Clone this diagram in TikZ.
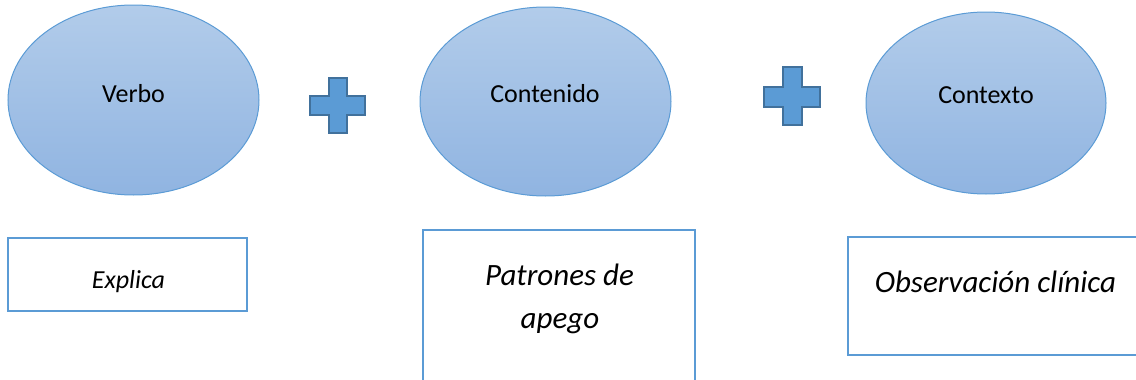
\documentclass[tikz,border=0pt]{standalone}
\usepackage{fontspec}
\setmainfont{Carlito}
\usetikzlibrary{shapes.geometric}
\definecolor{ovalline}{HTML}{5B9BD5}
\definecolor{ovaltop}{HTML}{B2CCEA}
\definecolor{ovalbot}{HTML}{90B4E1}
\definecolor{plusfill}{HTML}{5B9BD5}
\definecolor{plusline}{HTML}{41719C}
\definecolor{boxline}{HTML}{5B9BD5}
\tikzset{
  oval/.style={ellipse, draw=ovalline, line width=1pt, top color=ovaltop, bottom color=ovalbot, inner sep=0pt},
  ovaltext/.style={anchor=base, inner sep=0pt, font=\fontsize{26}{31}\selectfont},
  plussign/.style={fill=plusfill, draw=plusline, line width=1.6pt, line join=miter},
  textbox/.style={draw=boxline, line width=2pt},
  boxtext/.style={anchor=base, inner sep=0pt, align=center},
}
\begin{document}
\begin{tikzpicture}[x=1pt,y=-1pt]
\useasboundingbox (0,0) rectangle (1136,380);
\begin{scope}
\clip (0,0) rectangle (1136,380);
% ovals
\node[oval, minimum width=251pt, minimum height=190pt] (o1) at (133.5,100) {};
\node[oval, minimum width=251pt, minimum height=189pt] (o2) at (545.5,101.5) {};
\node[oval, minimum width=240pt, minimum height=182pt] (o3) at (986,103) {};
\node[ovaltext] (t1) at (133.5,102) {Verbo};
\node[ovaltext] (t2) at (545,102) {Contenido};
\node[ovaltext] (t3) at (986,103) {Contexto};
% plus signs
\draw[plussign] (329,78) -- (347,78) -- (347,96) -- (365,96) -- (365,115) -- (347,115) -- (347,133) -- (329,133) -- (329,115) -- (310,115) -- (310,96) -- (329,96) -- cycle;
\draw[plussign] (783,67) -- (802,67) -- (802,87) -- (820,87) -- (820,107) -- (802,107) -- (802,125) -- (783,125) -- (783,107) -- (764,107) -- (764,87) -- (783,87) -- cycle;
% boxes
\node[textbox, minimum width=239pt, minimum height=73pt, inner sep=0pt] (b1) at (127.5,274.5) {};
\node[textbox, minimum width=272pt, minimum height=170pt, inner sep=0pt] (b2) at (559,315) {};
\node[textbox, minimum width=297pt, minimum height=118pt, inner sep=0pt] (b3) at (996.5,296) {};
\node[boxtext, font=\itshape\fontsize{26}{31}\selectfont] (x1) at (128.5,288) {Explica};
\node[boxtext, font=\itshape\fontsize{31}{43}\selectfont] (x2) at (559.5,285) {Patrones de};
\node[boxtext, font=\itshape\fontsize{31}{43}\selectfont] (x2b) at (560,328) {apego};
\node[boxtext, font=\itshape\fontsize{31}{43}\selectfont] (x3) at (995.5,292) {Observación clínica};
\end{scope}
\end{tikzpicture}
\end{document}
